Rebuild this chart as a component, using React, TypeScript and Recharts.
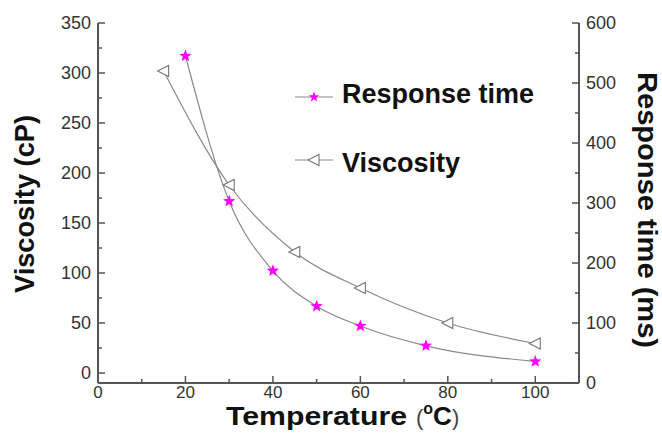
import { Line, LineChart, XAxis, YAxis } from "recharts"

// temperature (°C) for each series
const tempViscosity = [15, 30, 45, 60, 80, 100]
const viscosity = [302, 188, 121, 85, 50, 29.5]
const tempResponse = [20, 30, 40, 50, 60, 75, 100]
const responseTime = [545, 303, 187, 128, 95, 62, 36]

const xTicks = [0, 10, 20, 30, 40, 50, 60, 70, 80, 90, 100]
const leftTicks = [0, 25, 50, 75, 100, 125, 150, 175, 200, 225, 250, 275, 300, 325, 350]
const rightTicks = [0, 50, 100, 150, 200, 250, 300, 350, 400, 450, 500, 550, 600]

const viscosityData = tempViscosity.map((t, i) => ({ t, v: viscosity[i] }))
const responseData = tempResponse.map((t, i) => ({ t, r: responseTime[i] }))

const font = "'Liberation Sans', Arial, sans-serif"
const axisColor = "#555"
const lineColor = "#8a8a8a"
const tickText = { fontFamily: font, fontSize: 18, fill: "#333" }

function starPath(cx: number, cy: number, R: number, r: number) {
  let d = ""
  for (let i = 0; i < 10; i++) {
    const rad = i % 2 === 0 ? R : r
    const a = -Math.PI / 2 + (i * Math.PI) / 5
    d += (i === 0 ? "M" : "L") + (cx + rad * Math.cos(a)).toFixed(2) + "," + (cy + rad * Math.sin(a)).toFixed(2)
  }
  return d + "Z"
}

function Star({ cx, cy, size = 6.5 }: any) {
  return <path d={starPath(cx, cy, size, size * 0.42)} fill="#ff00ff" stroke="none" />
}

function Tri({ cx, cy }: any) {
  return (
    <path
      d={`M${cx - 6},${cy} L${cx + 5},${cy - 5.5} L${cx + 5},${cy + 5.5} Z`}
      fill="#fff"
      stroke="#777"
      strokeWidth={1.1}
    />
  )
}

function LeftTick({ x, y, payload }: any) {
  const v = payload.value
  const major = v % 50 === 0
  return (
    <g>
      <line x1={x} x2={x + (major ? 7 : 4)} y1={y} y2={y} stroke={axisColor} strokeWidth={1.5} />
      {major && (
        <text x={x - 7} y={y} dy={6} textAnchor="end" {...tickText}>
          {v}
        </text>
      )}
    </g>
  )
}

function RightTick({ x, y, payload }: any) {
  const v = payload.value
  const major = v % 100 === 0
  return (
    <g>
      <line x1={x} x2={x - (major ? 7 : 4)} y1={y} y2={y} stroke={axisColor} strokeWidth={1.5} />
      {major && (
        <text x={x + 7} y={y} dy={6} textAnchor="start" {...tickText}>
          {v}
        </text>
      )}
    </g>
  )
}

function BottomTick({ x, y, payload }: any) {
  const v = payload.value
  const major = v % 20 === 0
  return (
    <g>
      <line x1={x} x2={x} y1={y} y2={y - (major ? 7 : 4)} stroke={axisColor} strokeWidth={1.5} />
      {major && (
        <text x={x} y={y + 15} textAnchor="middle" {...tickText} fontSize={17}>
          {v}
        </text>
      )}
    </g>
  )
}

function App() {
  return (
    <div style={{ position: "absolute", left: 0, top: 0, width: 662, height: 437, background: "#fff" }}>
      <LineChart width={662} height={437} margin={{ top: 23, right: 0, bottom: 0, left: 0 }}>
        <XAxis
          dataKey="t"
          type="number"
          domain={[0, 110]}
          ticks={xTicks}
          interval={0}
          height={54}
          tickSize={0}
          tickMargin={0}
          tickLine={false}
          tick={BottomTick}
          axisLine={{ stroke: axisColor, strokeWidth: 2 }}
        />
        <XAxis
          xAxisId="top"
          orientation="top"
          dataKey="t"
          type="number"
          domain={[0, 110]}
          height={0}
          tick={false}
          tickLine={false}
          axisLine={{ stroke: axisColor, strokeWidth: 2 }}
        />
        <YAxis
          yAxisId="left"
          type="number"
          domain={[-10, 350]}
          ticks={leftTicks}
          interval={0}
          width={98}
          tickSize={0}
          tickMargin={0}
          tickLine={false}
          tick={LeftTick}
          axisLine={{ stroke: axisColor, strokeWidth: 2 }}
        />
        <YAxis
          yAxisId="right"
          orientation="right"
          type="number"
          domain={[0, 600]}
          ticks={rightTicks}
          interval={0}
          width={83}
          tickSize={0}
          tickMargin={0}
          tickLine={false}
          tick={RightTick}
          axisLine={{ stroke: axisColor, strokeWidth: 2 }}
        />
        <Line
          yAxisId="left"
          data={viscosityData}
          dataKey="v"
          type="monotone"
          stroke={lineColor}
          strokeWidth={1.2}
          dot={(p: any) => <Tri key={p.index} cx={p.cx} cy={p.cy} />}
          isAnimationActive={false}
        />
        <Line
          yAxisId="right"
          data={responseData}
          dataKey="r"
          type="monotone"
          stroke={lineColor}
          strokeWidth={1.2}
          dot={(p: any) => <Star key={p.index} cx={p.cx} cy={p.cy} />}
          isAnimationActive={false}
        />
      </LineChart>
      <svg
        width={662}
        height={437}
        style={{ position: "absolute", left: 0, top: 0, pointerEvents: "none" }}
        fontFamily={font}
      >
        {/* legend */}
        <line x1={295} x2={333} y1={97} y2={97} stroke={lineColor} strokeWidth={1.2} />
        <Star cx={314} cy={97} size={5.5} />
        <text x={342} y={103} fontSize={27} fontWeight="bold" fill="#111">
          Response time
        </text>
        <line x1={295} x2={333} y1={160} y2={160} stroke={lineColor} strokeWidth={1.2} />
        <Tri cx={314} cy={160} />
        <text x={342} y={172} fontSize={27} fontWeight="bold" fill="#111">
          Viscosity
        </text>

        {/* axis titles */}
        <text
          x={34}
          y={204}
          transform="rotate(-90, 34, 204)"
          textAnchor="middle"
          fontSize={27}
          fontWeight="bold"
          fill="#111"
          textLength={178}
          lengthAdjust="spacingAndGlyphs"
        >
          Viscosity (cP)
        </text>
        <text
          x={638}
          y={210}
          transform="rotate(90, 638, 210)"
          textAnchor="middle"
          fontSize={27}
          fontWeight="bold"
          fill="#111"
          textLength={276}
          lengthAdjust="spacingAndGlyphs"
        >
          Response time (ms)
        </text>
        <text
          x={226}
          y={425}
          fontSize={26}
          fontWeight="bold"
          fill="#111"
          textLength={181}
          lengthAdjust="spacingAndGlyphs"
        >
          Temperature
        </text>
        <text x={416} y={425} fontSize={26} fill="#111">
          <tspan fontWeight="normal" fontSize={22} fill="#444">(</tspan>
          <tspan fontWeight="bold" fontSize={16} dy={-11}>o</tspan>
          <tspan fontWeight="bold" dy={11}>C</tspan>
          <tspan fontWeight="normal" fontSize={22} fill="#444">)</tspan>
        </text>
      </svg>
    </div>
  )
}

export default App
